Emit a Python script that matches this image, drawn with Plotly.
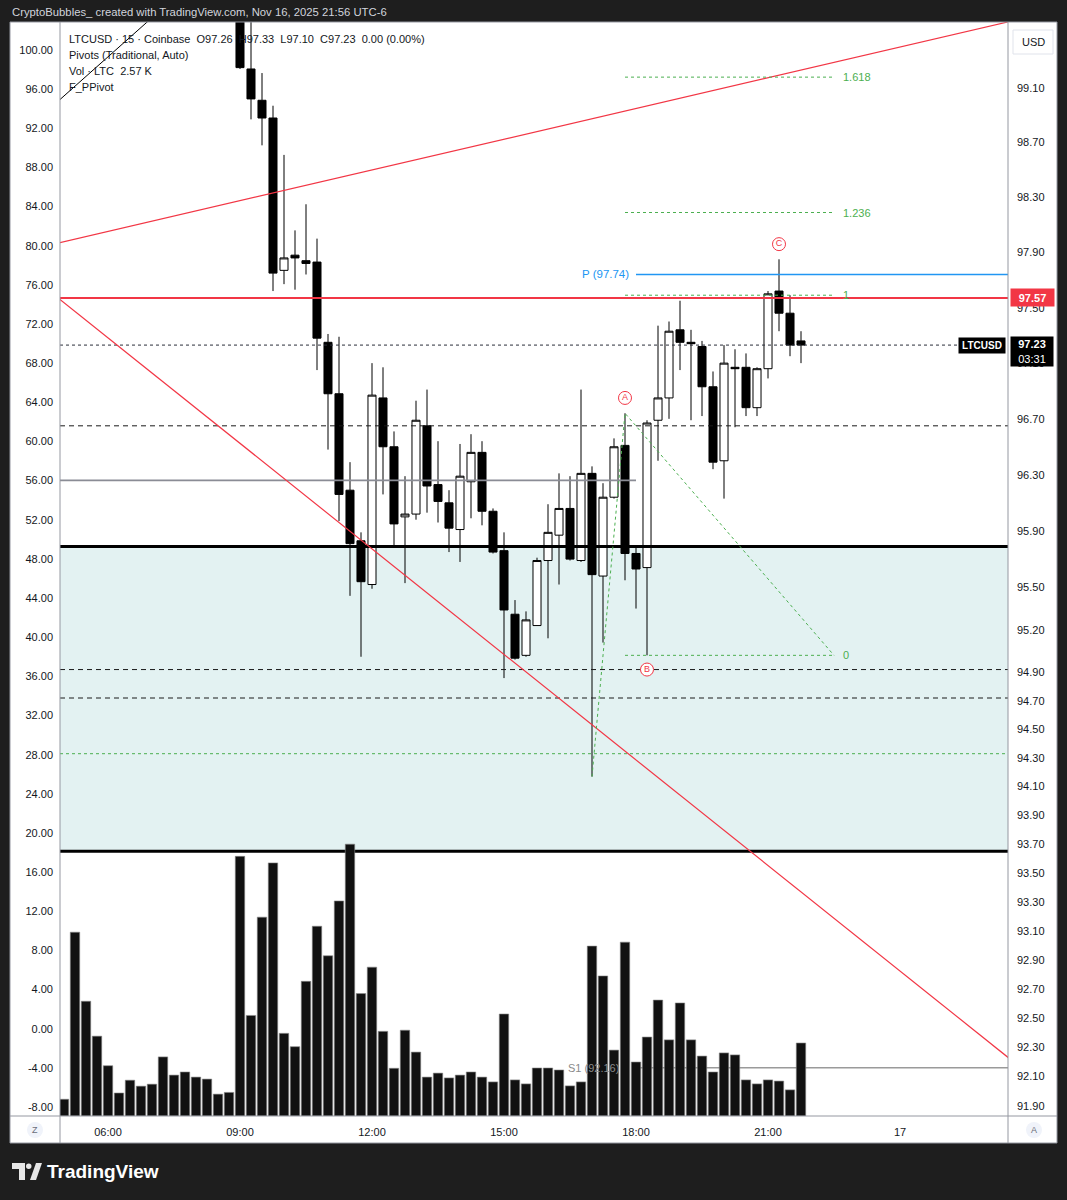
import math
import plotly.graph_objects as go

# ------------------------------------------------------------------ data
DATE = "2025-11-16 "

candle_hhmm = ["09:00", "09:15", "09:30", "09:45", "10:00", "10:15", "10:30", "10:45",
               "11:00", "11:15", "11:30", "11:45", "12:00", "12:15", "12:30", "12:45",
               "13:00", "13:15", "13:30", "13:45", "14:00", "14:15", "14:30", "14:45",
               "15:00", "15:15", "15:30", "15:45", "16:00", "16:15", "16:30", "16:45",
               "17:00", "17:15", "17:30", "17:45", "18:00", "18:15", "18:30", "18:45",
               "19:00", "19:15", "19:30", "19:45", "20:00", "20:15", "20:30", "20:45",
               "21:00", "21:15", "21:30", "21:45"]

opens = [100.20, 99.24, 99.01, 98.88, 97.77, 97.88, 97.84, 97.83,
         97.25, 96.88, 96.19, 95.83, 95.52, 96.85, 96.50, 96.00,
         96.02, 96.65, 96.23, 96.10, 95.91, 96.25, 96.46, 96.04,
         95.76, 95.31, 95.02, 95.23, 95.69, 95.87, 96.06, 95.69,
         96.31, 95.58, 96.14, 96.51, 95.74, 95.64, 96.69, 96.85,
         97.34, 97.25, 97.22, 96.93, 96.40, 97.07, 97.07, 96.78,
         97.06, 97.62, 97.46, 97.26]
highs = [100.40, 99.85, 99.21, 98.97, 98.61, 98.06, 98.25, 98.00,
         97.31, 97.29, 96.39, 95.89, 97.10, 97.07, 96.61, 96.29,
         96.83, 96.91, 96.54, 96.19, 96.52, 96.59, 96.54, 96.06,
         95.89, 95.41, 95.33, 95.71, 96.09, 96.31, 96.29, 96.91,
         96.36, 96.24, 96.56, 96.74, 95.78, 96.69, 97.37, 97.40,
         97.55, 97.34, 97.26, 97.04, 97.23, 97.20, 97.17, 97.07,
         97.62, 97.85, 97.59, 97.33]
lows = [99.24, 98.87, 98.68, 97.62, 97.67, 97.63, 97.74, 97.05,
        96.48, 95.97, 95.44, 95.01, 95.49, 96.16, 95.79, 95.53,
        95.98, 96.03, 95.96, 95.75, 95.68, 95.99, 95.94, 95.74,
        94.86, 94.99, 95.01, 95.23, 95.14, 95.52, 95.69, 95.68,
        94.17, 95.11, 96.13, 95.55, 95.35, 95.02, 96.40, 96.70,
        97.05, 96.69, 96.72, 96.34, 96.13, 96.64, 96.72, 96.72,
        96.99, 97.33, 97.15, 97.10]
closes = [99.25, 99.02, 98.88, 97.75, 97.86, 97.86, 97.82, 97.28,
          96.88, 96.16, 95.81, 95.54, 96.87, 96.50, 95.95, 96.02,
          96.69, 96.22, 96.11, 95.92, 96.29, 96.46, 96.04, 95.75,
          95.34, 95.00, 95.27, 95.69, 95.89, 96.06, 95.70, 96.31,
          95.59, 96.14, 96.50, 95.74, 95.63, 96.67, 96.85, 97.33,
          97.25, 97.24, 96.93, 96.39, 97.10, 97.06, 96.78, 97.06,
          97.60, 97.46, 97.23, 97.23]

vol_hhmm = ["05:00", "05:15", "05:30", "05:45", "06:00", "06:15", "06:30", "06:45",
            "07:00", "07:15", "07:30", "07:45", "08:00", "08:15", "08:30", "08:45"] + candle_hhmm
volume_k = [0.59, 6.47, 4.04, 2.81, 1.77, 0.81, 1.26, 1.05, 1.12, 2.08, 1.44, 1.55, 1.37, 1.30, 0.77, 0.83,
            9.14, 3.54, 7.00, 8.91, 2.91, 2.44, 4.74, 6.68, 5.64, 7.57, 9.57, 4.31, 5.24, 2.98, 1.68, 3.02,
            2.25, 1.37, 1.51, 1.34, 1.44, 1.55, 1.37, 1.20, 3.59, 1.27, 1.13, 1.69, 1.69, 1.62, 1.06, 1.20,
            5.98, 4.93, 2.32, 6.12, 1.90, 2.78, 4.08, 2.68, 3.98, 2.68, 2.11, 1.55, 2.22, 2.15, 1.27, 1.13,
            1.27, 1.23, 0.92, 2.57]

# horizontal levels
red_level = 97.57
pivot_p = 97.74
pivot_s1 = 92.16
gray_level = 96.26
dashed_levels = [96.65, 94.92, 94.72]
zone_top, zone_bottom = 95.79, 93.65
green_full_level = 94.33
last_price = 97.23

# trend-based fib extension
fib_labels = ["0", "1", "1.236", "1.618"]
fib_prices = [95.02, 97.59, 98.19, 99.18]
fib_start, fib_end = "2025-11-16 17:45", "2025-11-16 22:30"
xab_time = ["2025-11-16 17:00", "2025-11-16 17:45", "2025-11-16 22:30"]
xab_price = [94.17, 96.74, 95.02]

# trend lines
red_down_time = ["2025-11-16 04:45", "2025-11-17 02:30"]
red_down_price = [97.60, 92.22]
red_up_time = ["2025-11-16 04:45", "2025-11-17 02:30"]
red_up_price = [97.96, 99.59]
black_time = ["2025-11-16 04:45", "2025-11-16 07:15"]
black_price = [98.97, 99.69]

# A/B/C labels
abc_text = ["A", "B", "C"]
abc_time = ["2025-11-16 17:45", "2025-11-16 18:15", "2025-11-16 21:15"]
abc_price = [96.85, 94.92, 97.96]

# axes ticks
right_ticks = [99.10, 98.70, 98.30, 97.90, 97.50, 97.10, 96.70, 96.30, 95.90, 95.50, 95.20,
               94.90, 94.70, 94.50, 94.30, 94.10, 93.90, 93.70, 93.50, 93.30, 93.10, 92.90,
               92.70, 92.50, 92.30, 92.10, 91.90]
left_ticks = [100, 96, 92, 88, 84, 80, 76, 72, 68, 64, 60, 56, 52, 48, 44, 40, 36, 32, 28,
              24, 20, 16, 12, 8, 4, 0, -4, -8]
time_tick_vals = ["2025-11-16 06:00", "2025-11-16 09:00", "2025-11-16 12:00", "2025-11-16 15:00",
                  "2025-11-16 18:00", "2025-11-16 21:00", "2025-11-17 00:00"]
time_tick_text = ["06:00", "09:00", "12:00", "15:00", "18:00", "21:00", "17"]

# ------------------------------------------------------------------ layout geometry
W, H = 1067, 1200
PL, PR, PT, PB = 60, 1008, 22, 1116
BG = "#1e1e1e"
FONT = "Liberation Sans"
TXT = "#131722"
RED = "#f23645"
GREEN = "#4caf50"
BLUE = "#2196f3"
BORDER = "#9598a1"


def px(x):
    return (x - PL) / (PR - PL)


def py(y):
    return (PB - y) / (PB - PT)


def lg(p):
    return math.log10(p)


Y_RANGE = [lg(91.831), lg(99.586)]
X_RANGE = ["2025-11-16 04:54:33", "2025-11-17 02:27:16"]
FULL_X = ["2025-11-16 04:30", "2025-11-17 03:00"]

cx = [DATE + t for t in candle_hhmm]
vx = [DATE + t for t in vol_hhmm]

fig = go.Figure()


def line(x, y, color, width=1, dash="solid", **kw):
    fig.add_trace(go.Scatter(x=x, y=y, mode="lines", line=dict(color=color, width=width, dash=dash),
                             hoverinfo="skip", showlegend=False, **kw))


# left scale anchor (invisible)
fig.add_trace(go.Scatter(x=[cx[0]] * len(left_ticks), y=left_ticks, yaxis="y2", mode="markers",
                         marker=dict(opacity=0), hoverinfo="skip", showlegend=False))

fig.add_trace(go.Bar(
    x=vx, y=volume_k, yaxis="y3",
    marker=dict(color="#111111", line=dict(color="#8c8c8c", width=0.6)),
    hoverinfo="skip", showlegend=False))

fig.add_trace(go.Candlestick(
    x=cx, open=opens, high=highs, low=lows, close=closes,
    increasing=dict(line=dict(color="#000000", width=1), fillcolor="#ffffff"),
    decreasing=dict(line=dict(color="#000000", width=1), fillcolor="#000000"),
    whiskerwidth=0, hoverinfo="skip", showlegend=False))

# horizontal drawings
for lv in dashed_levels:
    line(FULL_X, [lv, lv], "#1a1a1a", 1, "5px,4px")
line(FULL_X, [green_full_level, green_full_level], GREEN, 1, "dot")
line(FULL_X, [last_price, last_price], "#2a2e39", 1, "dot")
line(["2025-11-16 04:30", "2025-11-16 18:00"], [gray_level, gray_level], "#8a8c95", 1.6)
for lv in (zone_top, zone_bottom):
    line(FULL_X, [lv, lv], "#000000", 3)
line(FULL_X, [red_level, red_level], RED, 2)
line(["2025-11-16 18:00", "2025-11-17 03:00"], [pivot_p, pivot_p], BLUE, 1.6)
line(["2025-11-16 18:00", "2025-11-17 03:00"], [pivot_s1, pivot_s1], "#9a9a9a", 1.6)

# trend lines and fib
line(red_down_time, red_down_price, RED, 1.2)
line(red_up_time, red_up_price, RED, 1.2)
line(black_time, black_price, "#000000", 1)
line(xab_time, xab_price, GREEN, 1, "dot")
for p in fib_prices:
    line([fib_start, fib_end], [p, p], GREEN, 1, "dot")

# A/B/C circled labels
fig.add_trace(go.Scatter(x=abc_time, y=abc_price, mode="markers+text", text=abc_text,
                         textposition="middle center",
                         textfont=dict(family=FONT, size=9, color=RED),
                         marker=dict(size=13, color="rgba(255,255,255,0.95)", line=dict(color=RED, width=1)),
                         hoverinfo="skip", showlegend=False))

shapes = []
# white panel
shapes.append(dict(type="rect", xref="paper", yref="paper", x0=px(10), x1=px(1057), y0=py(1143), y1=py(22),
                   fillcolor="#ffffff", line=dict(width=0), layer="below"))
# teal zone, below the candles (shape positions on the log axis given as prices)
shapes.append(dict(type="rect", xref="paper", yref="y", x0=0, x1=1, y0=zone_bottom, y1=zone_top,
                   fillcolor="#e3f2f2", line=dict(width=0), layer="below"))
# frame lines
for (x0, y0, x1, y1) in [(PL, 22, PL, 1143), (PR, 22, PR, 1143), (10, PB, 1057, PB),
                         (10, 22, 1057, 22), (10, 1143, 1057, 1143), (10, 22, 10, 1143), (1057, 22, 1057, 1143)]:
    shapes.append(dict(type="line", xref="paper", yref="paper", x0=px(x0), x1=px(x1), y0=py(y0), y1=py(y1),
                       line=dict(color=BORDER, width=1), layer="above"))
# USD box, Z / A buttons
shapes.append(dict(type="rect", xref="paper", yref="paper", x0=px(1013), x1=px(1053), y0=py(54), y1=py(30),
                   fillcolor="#ffffff", line=dict(color="#e0e3eb", width=1), layer="above"))
for cxp in (35, 1034):
    shapes.append(dict(type="circle", xref="paper", yref="paper", x0=px(cxp - 8), x1=px(cxp + 8),
                       y0=py(1138), y1=py(1122), fillcolor="#f0f3fa", line=dict(width=0), layer="above"))


def path(pts):
    return "M" + " L".join(f"{px(a):.5f},{py(b):.5f}" for a, b in pts) + " Z"


# TradingView logo icon
shapes.append(dict(type="path", xref="paper", yref="paper",
                   path=path([(12, 1163), (25, 1163), (25, 1180), (19, 1180), (19, 1169), (12, 1169)]),
                   fillcolor="#e6e6e6", line=dict(width=0), layer="above"))
shapes.append(dict(type="circle", xref="paper", yref="paper", x0=px(26), x1=px(31.5), y0=py(1169), y1=py(1163.5),
                   fillcolor="#e6e6e6", line=dict(width=0), layer="above"))
shapes.append(dict(type="path", xref="paper", yref="paper",
                   path=path([(30, 1180), (36, 1163), (42, 1163), (36, 1180)]),
                   fillcolor="#e6e6e6", line=dict(width=0), layer="above"))

ann = []


def text(x, y, s, size=11, color=TXT, xanchor="left", yanchor="middle", xref="paper", yref="paper", **kw):
    ann.append(dict(x=x, y=y, text=s, xref=xref, yref=yref, xanchor=xanchor, yanchor=yanchor,
                    showarrow=False, font=dict(family=FONT, size=size, color=color), **kw))


text(px(10), py(12), "CryptoBubbles_ created with TradingView.com, Nov 16, 2025 21:56 UTC-6", 11.3, "#d1d4dc")
text(px(67), py(39), "LTCUSD · 15 · Coinbase  O97.26  H97.33  L97.10  C97.23  0.00 (0.00%)", 11)
text(px(67), py(55), "Pivots (Traditional, Auto)", 11)
text(px(67), py(71), "Vol · LTC  2.57 K", 11)
text(px(67), py(87), "F_PPivot", 11)

text("2025-11-16 18:00", lg(pivot_p), f"P ({pivot_p:.2f})", 11.5, BLUE, xanchor="right", xref="x", yref="y", xshift=-5)
text("2025-11-16 18:00", lg(pivot_s1), f"S1 ({pivot_s1:.2f})", 11, "#8a8a8a", xanchor="right", xref="x", yref="y", xshift=-15)
for lab, p in zip(fib_labels, fib_prices):
    text(fib_end, lg(p), lab, 11, GREEN, xref="x", yref="y", xshift=7)

text(px(1010), lg(red_level), f"<b>{red_level:.2f}</b>", 11, "#ffffff", yref="y",
     bgcolor=RED, width=39, height=13, borderpad=2, align="center")
text(px(1010), lg(last_price), f"<b>{last_price:.2f}</b><br>03:31", 11, "#ffffff", yref="y",
     yanchor="top", yshift=9,
     bgcolor="#000000", width=38, height=25, borderpad=2, align="center")
text(px(1006), lg(last_price), "<b>LTCUSD</b>", 10, "#ffffff", xanchor="right", yref="y",
     bgcolor="#000000", width=42, height=11, borderpad=2, align="center")
text(px(1033), py(42), "USD", 11, TXT, xanchor="center")
text(px(35), py(1130), "Z", 9, "#6a6d78", xanchor="center")
text(px(1034), py(1130), "A", 9, "#6a6d78", xanchor="center")
text(px(45), py(1171), "<b>TradingView</b>", 19, "#ffffff")

fig.update_layout(
    width=W, height=H,
    margin=dict(l=PL, r=W - PR, t=PT, b=H - PB),
    paper_bgcolor=BG, plot_bgcolor="#ffffff",
    font=dict(family=FONT, size=11, color=TXT),
    showlegend=False, bargap=0.14, boxgap=0.27, boxgroupgap=0,
    xaxis=dict(type="date", range=X_RANGE, rangeslider=dict(visible=False), showgrid=False, zeroline=False,
               showline=False, tickmode="array", tickvals=time_tick_vals, ticktext=time_tick_text,
               ticks="", ticklabelstandoff=8, tickfont=dict(family=FONT, size=11, color=TXT)),
    yaxis=dict(type="log", side="right", range=Y_RANGE, showgrid=False, zeroline=False, showline=False,
               tickmode="array", tickvals=right_ticks, ticktext=[f"{v:.2f}" for v in right_ticks],
               ticks="", ticklabelstandoff=8, tickfont=dict(family=FONT, size=11, color=TXT)),
    yaxis2=dict(overlaying="y", side="left", range=[-8.92, 102.86], showgrid=False, zeroline=False,
                showline=False, tickmode="array", tickvals=left_ticks,
                ticktext=[f"{v:.2f}" for v in left_ticks], ticks="", ticklabelstandoff=6,
                tickfont=dict(family=FONT, size=11, color=TXT)),
    yaxis3=dict(overlaying="y", range=[0, 38.51], visible=False),
    shapes=shapes, annotations=ann,
)

fig.write_html("out.html")
